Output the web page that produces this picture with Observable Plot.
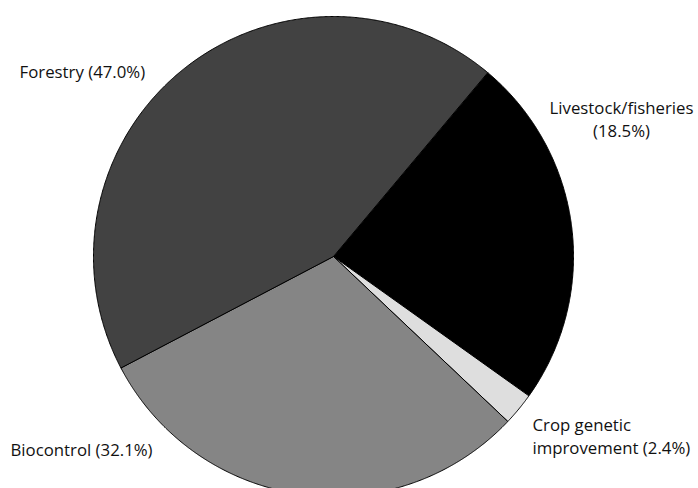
<!DOCTYPE html>
<html><head><meta charset="utf-8">
<script src="https://cdn.jsdelivr.net/npm/d3@7"></script>
<script src="https://cdn.jsdelivr.net/npm/@observablehq/plot@0.6"></script>
<style>html,body{margin:0;padding:0;background:#fff;overflow:hidden}</style>
</head><body><div id="chart"></div>
<script>
// Slices in clockwise drawing order (from the Forestry/Livestock boundary)
const categories = ["Livestock/fisheries", "Crop genetic improvement", "Biocontrol", "Forestry"];
// Angular shares as drawn in the reference (percent of the circle)
const shares = [23.75, 2.2, 30.25, 43.8];
const sliceColors = ["#000000", "#dedede", "#858585", "#424242"];
// Label texts as printed in the reference
const labelText = ["Livestock/fisheries\n(18.5%)", "Crop genetic\nimprovement (2.4%)", "Biocontrol (32.1%)", "Forestry (47.0%)"];
// Label anchor points, in units of the pie radius (centre = 0,0)
const labelX = [1.20, 0.829, -1.346, -1.308];
const labelY = [0.50, -0.821, -0.833, 0.742];
const labelAnchor = ["middle", "start", "start", "start"];
const startDeg = 40;

const pie = d3.pie().sort(null).value(d => d).startAngle(startDeg * Math.PI / 180).endAngle((startDeg + 360) * Math.PI / 180);
const arcs = pie(shares);
const pts = [];
arcs.forEach((a, i) => {
  const n = Math.max(4, Math.ceil((a.endAngle - a.startAngle) / 0.005));
  pts.push({key: i, color: sliceColors[i], x: 0, y: 0});
  for (let k = 0; k <= n; k++) {
    const t = a.startAngle + (a.endAngle - a.startAngle) * k / n;
    pts.push({key: i, color: sliceColors[i], x: Math.sin(t), y: Math.cos(t)});
  }
  pts.push({key: i, color: sliceColors[i], x: 0, y: 0});
});
const labels = labelText.map((t, i) => ({text: t, x: labelX[i], y: labelY[i], anchor: labelAnchor[i]}));

const cx = 333, cy = 256, r = 240;
const fs = 16.8, lh = 23 / 16.8;
const chart = Plot.plot({
  width: 698,
  height: 488,
  x: {domain: [-1, 1], range: [cx - r, cx + r], axis: null},
  y: {domain: [-1, 1], range: [cy + r, cy - r], axis: null},
  color: {type: "identity"},
  style: {fontFamily: "'Open Sans', sans-serif", background: "#fff"},
  marks: [
    Plot.line(pts, {x: "x", y: "y", z: "key", fill: "color", stroke: "#000", strokeWidth: 1, curve: "linear", strokeLinejoin: "round"}),
    Plot.text(labels.filter(d => d.anchor === "start"), {x: "x", y: "y", text: "text", textAnchor: "start", lineAnchor: "bottom", fontSize: fs, lineHeight: lh, fill: "#111"}),
    Plot.text(labels.filter(d => d.anchor === "middle"), {x: "x", y: "y", text: "text", textAnchor: "middle", lineAnchor: "bottom", fontSize: fs, lineHeight: lh, fill: "#111"})
  ]
});
document.getElementById("chart").appendChild(chart);
</script>
</body></html>
